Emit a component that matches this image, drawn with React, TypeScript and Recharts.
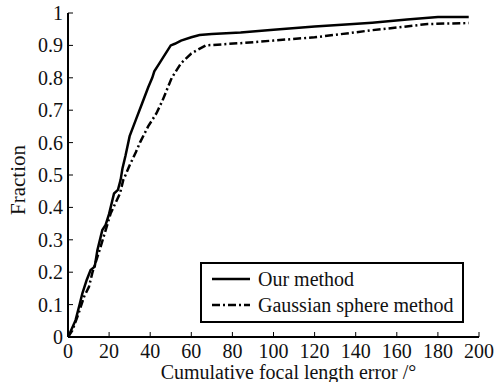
import React from "react";
import {
  LineChart,
  Line,
  XAxis,
  YAxis,
  Legend,
} from "recharts";

// cumulative error (deg) and fraction
const ourX = [0, 0.5, 3.7, 5.8, 7, 9.1, 11, 13, 14.3, 16.7, 18.3, 20, 22.4, 24.3, 25.6, 26.5, 28, 30, 33, 36, 39, 41, 42, 44, 46, 48, 50, 52, 55, 60, 64, 70, 84, 100, 120, 137, 148, 165, 180, 195];
const ourY = [0, 0.006, 0.052, 0.104, 0.135, 0.176, 0.207, 0.217, 0.268, 0.33, 0.346, 0.38, 0.443, 0.454, 0.485, 0.52, 0.56, 0.62, 0.67, 0.72, 0.77, 0.8, 0.82, 0.84, 0.86, 0.88, 0.9, 0.905, 0.915, 0.925, 0.932, 0.935, 0.94, 0.948, 0.958, 0.965, 0.97, 0.98, 0.988, 0.988];

const gaussX = [0, 2.1, 5, 7.8, 10.2, 11.8, 15.9, 20.8, 25.3, 26.9, 28, 30, 33, 35, 39, 43, 46, 50.5, 55, 60, 63, 67, 84, 100, 120, 137, 148, 160, 175, 195];
const gaussY = [0, 0.02, 0.07, 0.124, 0.155, 0.197, 0.279, 0.382, 0.443, 0.485, 0.5, 0.53, 0.57, 0.6, 0.65, 0.69, 0.73, 0.8, 0.845, 0.875, 0.886, 0.9, 0.907, 0.915, 0.925, 0.938, 0.947, 0.955, 0.966, 0.969];

const xTicks = [0, 20, 40, 60, 80, 100, 120, 140, 160, 180, 200];
const yTicks = [0, 0.1, 0.2, 0.3, 0.4, 0.5, 0.6, 0.7, 0.8, 0.9, 1];

const ourData = ourX.map((x, i) => ({ x, y: ourY[i] }));
const gaussData = gaussX.map((x, i) => ({ x, y: gaussY[i] }));

const FONT = "'Liberation Serif', 'DejaVu Serif', serif";
const DASHDOT = "8 3 2 3";

const BottomTick = (props: any) => {
  const { x, y, payload } = props;
  return (
    <g>
      <line x1={x} y1={y} x2={x} y2={y - 5} stroke="#000" strokeWidth={1} />
      <text x={x} y={y + 21} textAnchor="middle" fontFamily={FONT} fontSize={20} fill="#111">
        {payload.value}
      </text>
    </g>
  );
};

const TopTick = (props: any) => {
  const { x, y } = props;
  return <line x1={x} y1={y} x2={x} y2={y + 5} stroke="#000" strokeWidth={1} />;
};

const LeftTick = (props: any) => {
  const { x, y, payload } = props;
  return (
    <g>
      <line x1={x} y1={y} x2={x + 5} y2={y} stroke="#000" strokeWidth={1} />
      <text x={x - 5} y={y + 7} textAnchor="end" fontFamily={FONT} fontSize={20} fill="#111">
        {payload.value}
      </text>
    </g>
  );
};

const RightTick = (props: any) => {
  const { x, y } = props;
  return <line x1={x} y1={y} x2={x - 5} y2={y} stroke="#000" strokeWidth={1} />;
};

const LegendBox = () => (
  <div
    style={{
      border: "2px solid #000",
      background: "#fff",
      fontFamily: FONT,
      fontSize: 20,
      color: "#111",
      padding: "2px 8px 3px 10px",
      lineHeight: "26px",
      whiteSpace: "nowrap",
    }}
  >
    <div style={{ display: "flex", alignItems: "center" }}>
      <svg width={38} height={10} style={{ marginRight: 8 }}>
        <line x1={0} y1={5} x2={38} y2={5} stroke="#000" strokeWidth={2.5} />
      </svg>
      Our method
    </div>
    <div style={{ display: "flex", alignItems: "center" }}>
      <svg width={38} height={10} style={{ marginRight: 8 }}>
        <line x1={0} y1={5} x2={38} y2={5} stroke="#000" strokeWidth={2.5} strokeDasharray={DASHDOT} />
      </svg>
      Gaussian sphere method
    </div>
  </div>
);

export default function App() {
  return (
    <div style={{ position: "absolute", left: 0, top: 0, background: "#fff" }}>
      <LineChart width={494} height={382} margin={{ top: 13, right: 15, bottom: 0, left: 0 }}>
        <XAxis
          xAxisId="bottom"
          type="number"
          dataKey="x"
          domain={[0, 200]}
          ticks={xTicks}
          tick={<BottomTick />}
          tickLine={false}
          tickSize={0}
          tickMargin={0}
          height={45}
          axisLine={{ stroke: "#000", strokeWidth: 2 }}
          interval={0}
          label={{
            value: "Cumulative focal length error /°",
            position: "center",
            dx: 15,
            dy: 12,
            fontFamily: FONT,
            fontSize: 20,
            fill: "#111",
          }}
        />
        <XAxis
          xAxisId="top"
          orientation="top"
          type="number"
          dataKey="x"
          domain={[0, 200]}
          ticks={xTicks}
          tick={<TopTick />}
          tickLine={false}
          tickSize={0}
          tickMargin={0}
          height={0}
          axisLine={{ stroke: "#000", strokeWidth: 2 }}
          interval={0}
        />
        <YAxis
          yAxisId="left"
          type="number"
          domain={[0, 1]}
          ticks={yTicks}
          tick={<LeftTick />}
          tickLine={false}
          tickSize={0}
          tickMargin={0}
          width={68}
          axisLine={{ stroke: "#000", strokeWidth: 2 }}
          interval={0}
          label={{
            value: "Fraction",
            angle: -90,
            position: "center",
            dx: -16,
            dy: 5,
            fontFamily: FONT,
            fontSize: 21,
            fill: "#111",
          }}
        />
        <YAxis
          yAxisId="right"
          orientation="right"
          type="number"
          domain={[0, 1]}
          ticks={yTicks}
          tick={<RightTick />}
          tickLine={false}
          tickSize={0}
          tickMargin={0}
          width={0}
          axisLine={{ stroke: "#000", strokeWidth: 2 }}
          interval={0}
        />
        <Legend
          content={<LegendBox />}
          align="center"
          verticalAlign="middle"
          wrapperStyle={{ position: "absolute", left: 200, top: 262, width: "auto" }}
        />
        <Line
          xAxisId="bottom"
          yAxisId="left"
          data={ourData}
          dataKey="y"
          type="linear"
          stroke="#000"
          strokeWidth={2.5}
          dot={false}
          isAnimationActive={false}
          name="Our method"
        />
        <Line
          xAxisId="bottom"
          yAxisId="left"
          data={gaussData}
          dataKey="y"
          type="linear"
          stroke="#000"
          strokeWidth={2.5}
          strokeDasharray={DASHDOT}
          dot={false}
          isAnimationActive={false}
          name="Gaussian sphere method"
        />
      </LineChart>
    </div>
  );
}
